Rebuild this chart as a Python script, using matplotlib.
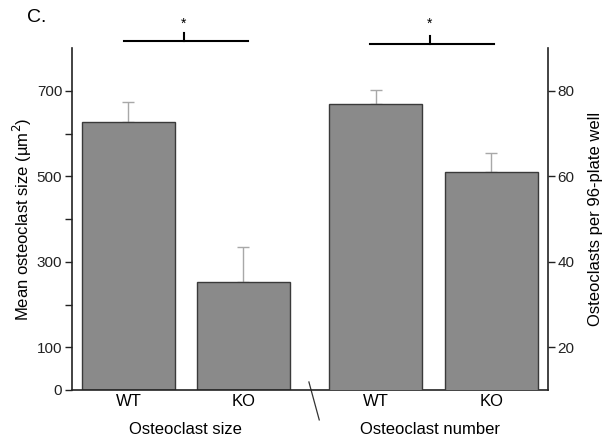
import matplotlib.pyplot as plt
import numpy as np

plt.rcParams['font.family'] = ['Liberation Sans', 'DejaVu Sans']

# data
groups = ['Osteoclast size', 'Osteoclast number']
genotypes = ['WT', 'KO', 'WT', 'KO']
size_mean = [628, 252]
size_err = [46, 82]
number_mean = [77, 61]
number_err = [3.2, 4.4]
left_ticks = [0, 100, 200, 300, 400, 500, 600, 700]
left_labels = ['0', '100', '', '300', '', '500', '', '700']
right_ticks = [20, 40, 60, 80]

x_pos = np.array([0, 1, 2.152, 3.157])
bar_w = 0.81
face = '#8a8a8a'
edge = '#3a3a3a'
err_c = '#a8a8a8'

fig = plt.figure(figsize=(6.1, 4.37), dpi=100)
ax = fig.add_axes([0.118, 0.1076, 0.78, 0.7824])
ax2 = ax.twinx()

ax.bar(x_pos[:2], size_mean, width=bar_w, color=face, edgecolor=edge, linewidth=1, zorder=2)
ax.errorbar(x_pos[:2], size_mean, yerr=[[0, 0], size_err], fmt='none',
            ecolor=err_c, elinewidth=1, capsize=4, capthick=1, zorder=1)
ax2.bar(x_pos[2:], number_mean, width=bar_w, color=face, edgecolor=edge, linewidth=1, zorder=2)
ax2.errorbar(x_pos[2:], number_mean, yerr=[[0, 0], number_err], fmt='none',
             ecolor=err_c, elinewidth=1, capsize=4, capthick=1, zorder=1)

ax.set_xlim(-0.491, 3.648)
ax.set_ylim(0, 800)
ax2.set_ylim(10, 90)

ax.set_yticks(left_ticks)
ax.set_yticklabels(left_labels)
ax2.set_yticks(right_ticks)

for a in (ax, ax2):
    a.spines['top'].set_visible(False)
    a.tick_params(axis='y', direction='out', length=5, width=1, labelsize=11, pad=2, colors='#222222')
    for s in a.spines.values():
        s.set_linewidth(1.2)
        s.set_color('#222222')
ax2.spines['left'].set_visible(False)
ax.spines['right'].set_visible(False)
ax2.spines['bottom'].set_visible(False)

ax.set_xticks(x_pos)
ax.set_xticklabels(genotypes, fontsize=12)
ax.tick_params(axis='x', length=0, pad=3)

ax.set_ylabel('Mean osteoclast size (µm$^2$)', fontsize=12, labelpad=2)
ax2.set_ylabel('Osteoclasts per 96-plate well', fontsize=12, labelpad=10)

# group labels under the ticks
ax.text(0.5, -0.115, groups[0], transform=ax.get_xaxis_transform(), ha='center', va='center', fontsize=12)
ax.text(2.62, -0.115, groups[1], transform=ax.get_xaxis_transform(), ha='center', va='center', fontsize=12)

# axis break mark
ax.plot([1.57, 1.66], [18.7, -70], color='#333333', lw=0.9, clip_on=False)

# significance brackets
ax.plot([-0.04, 1.04], [817, 817], color='black', lw=1.5, clip_on=False)
ax.plot([0.483, 0.483], [817, 835], color='black', lw=1.5, clip_on=False)
ax.text(0.483, 858, '*', ha='center', va='center', fontsize=10)
ax.plot([2.10, 3.18], [810, 810], color='black', lw=1.5, clip_on=False)
ax.plot([2.622, 2.622], [810, 828], color='black', lw=1.5, clip_on=False)
ax.text(2.622, 858, '*', ha='center', va='center', fontsize=10)

fig.text(0.045, 0.96, 'C.', fontsize=14, ha='left', va='center')

fig.savefig('out.png', dpi=100)
